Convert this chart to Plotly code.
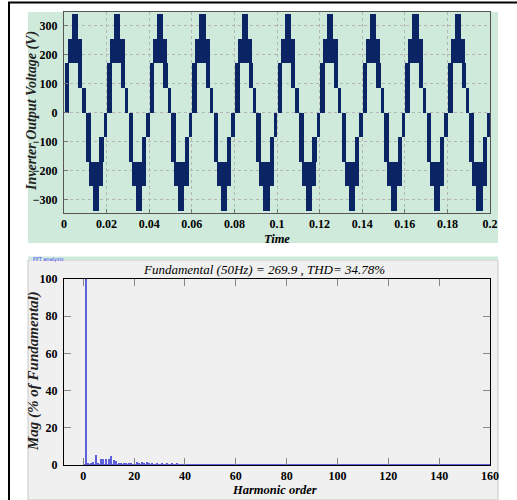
import plotly.graph_objects as go

# ---------------- data ----------------
# Positive half-cycle switching bands (ms from cycle start, volts)
band_start_ms = [0.30, 1.70, 3.60, 6.65, 8.60]
band_end_ms   = [2.45, 8.45, 6.50, 8.60, 10.15]
band_low_v    = [0, 170, 255, 85, 0]
band_high_v   = [170, 255, 340, 170, 85]
half_period_ms = 10.0
n_cycles = 10

time_ticks = [0, 0.02, 0.04, 0.06, 0.08, 0.1, 0.12, 0.14, 0.16, 0.18, 0.2]
time_tick_text = ["0", "0.02", "0.04", "0.06", "0.08", "0.1", "0.12", "0.14", "0.16", "0.18", "0.2"]
volt_ticks = [-300, -200, -100, 0, 100, 200, 300]

# Harmonic spectrum (% of fundamental), orders 0..160
harm_mag = [
    0.0, 100.0, 0.9, 1.2, 1.4, 5.6, 1.0, 3.3, 3.2, 3.3,
    3.2, 5.0, 2.8, 2.2, 1.3, 1.0, 0.8, 1.2, 0.6, 1.0,
    0.5, 1.4, 0.8, 1.8, 0.7, 1.6, 0.6, 0.9, 0.5, 0.7,
    0.4, 0.6, 0.3, 0.7, 0.4, 0.9, 0.5, 0.8, 0.4, 0.5,
    0.3, 0.5, 0.3, 0.4, 0.3, 0.5, 0.3, 0.4, 0.2, 0.5,
    0.3, 0.4, 0.2, 0.3, 0.2, 0.4, 0.2, 0.3, 0.2, 0.4,
    0.3, 0.3, 0.2, 0.3, 0.2, 0.2, 0.3, 0.2, 0.2, 0.3,
    0.2, 0.2, 0.3, 0.2, 0.2, 0.2, 0.3, 0.2, 0.2, 0.2,
    0.2, 0.3, 0.2, 0.2, 0.2, 0.2, 0.2, 0.3, 0.2, 0.2,
    0.2, 0.2, 0.2, 0.2, 0.3, 0.2, 0.2, 0.2, 0.2, 0.2,
    0.2, 0.2, 0.3, 0.2, 0.2, 0.2, 0.2, 0.2, 0.2, 0.2,
    0.2, 0.2, 0.2, 0.2, 0.2, 0.3, 0.2, 0.2, 0.2, 0.2,
    0.2, 0.2, 0.2, 0.2, 0.2, 0.2, 0.2, 0.2, 0.2, 0.2,
    0.2, 0.2, 0.2, 0.2, 0.2, 0.2, 0.2, 0.2, 0.2, 0.2,
    0.2, 0.2, 0.2, 0.2, 0.2, 0.2, 0.2, 0.2, 0.2, 0.2,
    0.2, 0.2, 0.2, 0.2, 0.2, 0.2, 0.2, 0.2, 0.2, 0.2,
    0.2,
]
harm_order = list(range(len(harm_mag)))
harm_ticks = [0, 20, 40, 60, 80, 100, 120, 140, 160]
mag_ticks = [0, 20, 40, 60, 80, 100]

fund_text = "Fundamental (50Hz) = 269.9 , THD= 34.78%"

# ---------------- build waveform bands ----------------
bx, bw, bbase, bh = [], [], [], []
for c in range(n_cycles):
    for half, sign in ((0, 1), (1, -1)):
        off = (2 * c + half) * half_period_ms
        for s, e, lo, hi in zip(band_start_ms, band_end_ms, band_low_v, band_high_v):
            t0 = (off + s) / 1000.0
            t1 = min((off + e) / 1000.0, 0.2)
            if t0 >= 0.2:
                continue
            bx.append((t0 + t1) / 2)
            bw.append(t1 - t0)
            a, b = sign * lo, sign * hi
            bbase.append(min(a, b))
            bh.append(abs(b - a))

W, H = 517, 500
def px(x):
    return x / W
def py(y):
    return 1 - y / H

NAVY = "#0b2463"
SERIF = "Liberation Serif"
BARC = "#5f5fdb"

fig = go.Figure()
fig.add_trace(go.Bar(x=bx, y=bh, base=bbase, width=bw, marker=dict(color=NAVY, line=dict(width=0)),
                     xaxis="x", yaxis="y", showlegend=False, hoverinfo="skip"))

fig.add_trace(go.Bar(x=harm_order, y=harm_mag, width=0.55,
                     marker=dict(color=BARC, line=dict(width=0)),
                     xaxis="x2", yaxis="y2", showlegend=False))
fig.add_trace(go.Scatter(x=[harm_order[0], harm_order[-1]], y=[0.25, 0.25], mode="lines",
                         line=dict(color=BARC, width=1.2), xaxis="x2", yaxis="y2",
                         showlegend=False, hoverinfo="skip"))

tickfont = dict(family=SERIF, size=12, color="black", weight=700)

fig.update_layout(
    width=W, height=H, margin=dict(l=0, r=0, t=0, b=0, pad=0, autoexpand=False),
    autosize=False,
    paper_bgcolor="white", plot_bgcolor="white", barmode="overlay", bargap=0,
    xaxis=dict(domain=[px(64), px(490)], anchor="y", range=[0, 0.2], automargin=False,
               tickvals=time_ticks, ticktext=time_tick_text, tickfont=tickfont,
               showgrid=True, gridcolor="#b5b5b5", griddash="dot", gridwidth=1,
               showline=True, linecolor="#555555", linewidth=1, mirror=True,
               ticks="inside", ticklen=4, tickcolor="#777777", zeroline=False),
    yaxis=dict(domain=[py(213), py(12)], anchor="x", range=[-347, 347], automargin=False,
               tickvals=volt_ticks, tickfont=tickfont,
               showgrid=True, gridcolor="#b5b5b5", griddash="dot", gridwidth=1,
               showline=True, linecolor="#555555", linewidth=1, mirror=True,
               ticks="inside", ticklen=4, tickcolor="#777777", zeroline=False,
               ticklabelstandoff=3),
    xaxis2=dict(domain=[px(64), px(490)], anchor="y2", range=[-7.6, 160], automargin=False,
                tickvals=harm_ticks, tickfont=tickfont, showgrid=False,
                showline=True, linecolor="black", linewidth=1, mirror="ticks",
                ticks="inside", ticklen=7, tickcolor="#888888", zeroline=False),
    yaxis2=dict(domain=[py(465), py(279)], anchor="x2", range=[0, 100], automargin=False,
                tickvals=mag_ticks, tickfont=tickfont, showgrid=False,
                showline=True, linecolor="black", linewidth=1, mirror="ticks",
                ticks="inside", ticklen=7, tickcolor="#888888", zeroline=False,
                ticklabelstandoff=3),
)

shapes = [
    dict(type="rect", xref="paper", yref="paper", x0=px(28), x1=px(498), y0=py(243), y1=py(12),
         fillcolor="#cfeadb", line=dict(width=0), layer="below"),
    dict(type="rect", xref="paper", yref="paper", x0=px(28), x1=px(498), y0=py(500), y1=py(260),
         fillcolor="#f0f0f0", line=dict(color="#c8c8c8", width=1), layer="below"),
    dict(type="rect", xref="paper", yref="paper", x0=px(28), x1=px(498), y0=py(260), y1=py(256.5),
         fillcolor="#cfeadb", line=dict(width=0), layer="below"),
    dict(type="line", xref="paper", yref="paper", x0=px(9), x1=px(9), y0=0, y1=py(2),
         line=dict(color="black", width=2)),
    dict(type="line", xref="paper", yref="paper", x0=px(8), x1=1, y0=py(2.5), y1=py(2.5),
         line=dict(color="black", width=2)),
]
fig.update_layout(shapes=shapes)

ann = [
    dict(text="<b><i>Inverter Output Voltage (V)</i></b>", x=px(32), y=py(111), textangle=-90,
         font=dict(family=SERIF, size=14, color="#222222")),
    dict(text="<b><i>Time</i></b>", x=px(277), y=py(239), font=dict(family=SERIF, size=12.5, color="black")),
    dict(text="FFT analysis", x=px(31), y=py(259.5), xanchor="left",
         font=dict(family="DejaVu Sans", size=5, color="#3a3aff")),
    dict(text="<i>" + fund_text + "</i>", x=px(264), y=py(269),
         font=dict(family=SERIF, size=13, color="black")),
    dict(text="<b><i>Mag (% of Fundamental)</i></b>", x=px(33), y=py(371), textangle=-90,
         font=dict(family=SERIF, size=15, color="#222222")),
    dict(text="<b><i>Harmonic order</i></b>", x=px(274), y=py(490),
         font=dict(family=SERIF, size=12.5, color="black")),
]
for a in ann:
    a.update(xref="paper", yref="paper", showarrow=False)
    a.setdefault("xanchor", "center")
    a.setdefault("yanchor", "middle")
fig.update_layout(annotations=ann)

fig.write_html("out.html", config={"displayModeBar": False},
               post_script="document.body.style.margin='0';document.body.style.padding='0';")
